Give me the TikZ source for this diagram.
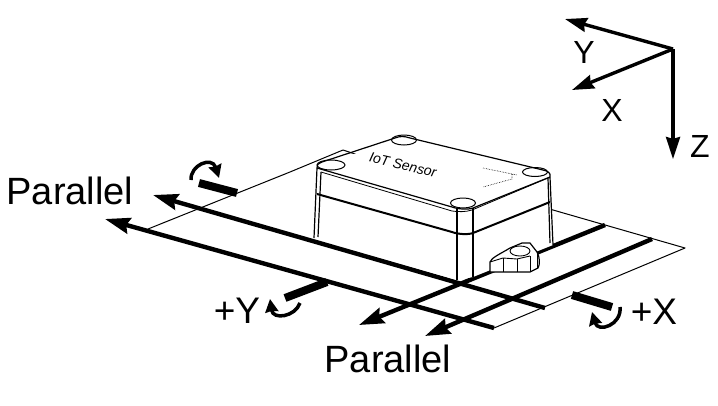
\documentclass[tikz,border=0pt]{standalone}
\usepackage{fontspec}
\setmainfont{Liberation Sans}
\usetikzlibrary{arrows.meta}
\tikzset{
  ax/.style={line width=3.4pt,-{Stealth[length=22pt,width=14pt,inset=2pt]}},
  pl/.style={line width=4.4pt,-{Stealth[length=25pt,width=16pt,inset=3pt]}},
  bar/.style={line width=8pt},
  turn/.style={line width=3.5pt,-{Stealth[length=13pt,width=13pt,inset=1pt]}},
  thin1/.style={line width=1pt},
  ol/.style={line width=1.2pt,line join=round},
  lab/.style={inner sep=0pt,font=\fontsize{38}{38}\selectfont},
  axl/.style={inner sep=0pt,font=\fontsize{32}{32}\selectfont},
  sgn/.style={inner sep=0pt,font=\fontsize{37}{37}\selectfont},
  screw/.style={draw,line width=1pt,fill=white}
}
\begin{document}
\begin{tikzpicture}[x=1pt,y=-1pt]
\useasboundingbox (0,0) rectangle (718,405);
% axes
\coordinate (o) at (673,49);
\coordinate (ay) at (565,19);
\coordinate (ax) at (572,90);
\coordinate (az) at (673,159);
\draw[ax] (o) -- (ay);
\draw[ax] (o) -- (ax);
\draw[ax] (o) -- (az);
\node[axl] (ly) at (584,52) {Y};
\node[axl] (lx) at (612,110) {X};
\node[axl] (lz) at (700,146) {Z};
% sheet
\draw[thin1,line join=round] (148,229) -- (290,172) -- (343,150) -- (352,153) -- (553,210) -- (685,248) -- (494,328);
% Y-direction lines
\coordinate (a1s) at (545,308);
\coordinate (a1t) at (153,195);
\coordinate (a2s) at (494,328);
\coordinate (a2t) at (105,219);
\draw[pl] (a1s) -- (a1t);
\draw[pl] (a2s) -- (a2t);
% X-direction lines
\coordinate (b1s) at (605,225);
\coordinate (b1t) at (359,325);
\coordinate (b2s) at (652,239);
\coordinate (b2t) at (425,336);
\draw[pl] (b1s) -- (b1t);
\draw[pl] (b2s) -- (b2t);
% box
\fill[white] (317,166) -- (403,138) -- (550,174) -- (553,245) -- (473,277) -- (457,280) -- (314,238) -- cycle;
\draw[screw] (331,165) ellipse [x radius=14,y radius=5];
\draw[screw] (404,140) ellipse [x radius=12.5,y radius=5];
\draw[screw] (535,172) ellipse [x radius=12.5,y radius=4.5];
\draw[screw] (463,203) ellipse [x radius=12.5,y radius=5];
\draw[ol] (314,238) -- (317,168) .. controls (316,165) and (318,164) .. (322,162) -- (395,138) .. controls (400,136) and (404,136) .. (410,138) -- (543,170) .. controls (548,171) and (551,173) .. (550,177) -- (553,245);
\draw[ol] (318,237) -- (321,172);
\draw[ol] (550,243) -- (548,178);
\draw[ol] (317,168) -- (452,207) .. controls (457,209) and (468,210) .. (473,208) -- (550,177);
\draw[line width=0.8pt] (321,172) -- (452,211) .. controls (458,212) and (466,212) .. (472,210) -- (548,178);
\draw[line width=2pt] (317,194) -- (452,232) .. controls (457,234) and (468,235) .. (473,233) -- (550,202);
\draw[ol] (457,209) -- (457,280);
\draw[ol] (473,208) -- (473,277);
% label on the lid
\node[inner sep=0pt,rotate=-13,font=\fontsize{14}{14}\selectfont\itshape] (iot) at (403,165) {IoT Sensor};
\draw[line width=0.6pt,densely dotted] (483,168) -- (517,175) -- (512,174) -- (512,179) -- (483,187);
% lug
\draw[ol,fill=white] (490,272) -- (490,262) .. controls (491,258) and (500,254) .. (510,248) -- (522,243) -- (530,243) -- (537,252) .. controls (540,257) and (540,265) .. (538,268) -- (530,272) -- cycle;
\draw[line width=0.9pt] (503,258) -- (503,272) (517,259) -- (517,272) (530,256) -- (530,272) (537,254) -- (537,268);
\draw[line width=0.9pt] (490,262) -- (503,258) -- (517,259) -- (530,256);
\draw[line width=0.9pt,fill=white] (520,251) ellipse [x radius=10,y radius=5];
% rotation marks
\coordinate (r1a) at (199,183); \coordinate (r1b) at (237,193);
\coordinate (r2a) at (285,298); \coordinate (r2b) at (327,282);
\coordinate (r3a) at (572,295); \coordinate (r3b) at (612,307);
\draw[bar] (r1a) -- (r1b);
\draw[bar] (r2a) -- (r2b);
\draw[bar] (r3a) -- (r3b);
\coordinate (c1a) at (191,180); \coordinate (c1b) at (219,178);
\coordinate (c2a) at (300,303); \coordinate (c2b) at (270,299);
\coordinate (c3a) at (620,307); \coordinate (c3b) at (592,312);
\draw[turn] (c1a) .. controls (190,165) and (212,156) .. (c1b);
\draw[turn] (c2a) .. controls (295,317) and (273,320) .. (c2b);
\draw[turn] (c3a) .. controls (622,325) and (598,333) .. (c3b);
% labels
\node[lab] (p1) at (70,191) {Parallel};
\node[lab] (p2) at (388,359) {Parallel};
\node[sgn] (py) at (237,311) {+Y};
\node[sgn] (px) at (654,312) {+X};
\end{tikzpicture}
\end{document}
